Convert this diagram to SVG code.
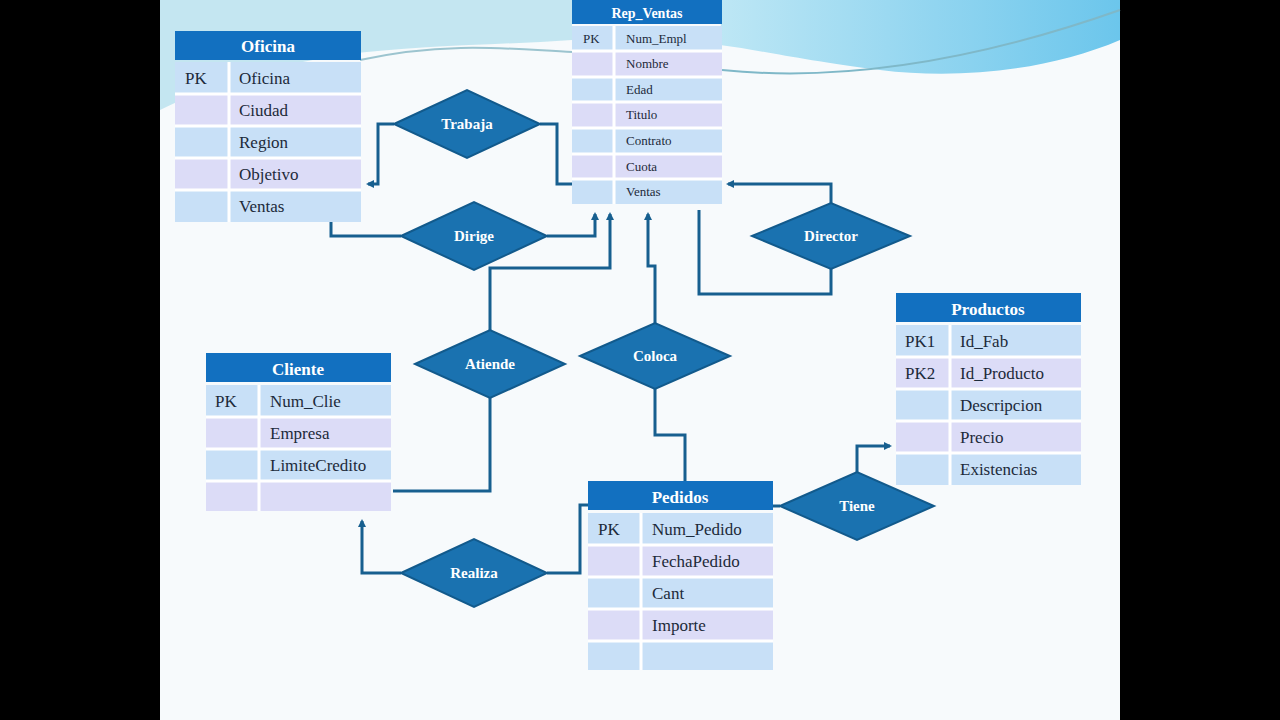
<svg xmlns="http://www.w3.org/2000/svg" width="1280" height="720" viewBox="0 0 1280 720">
<defs>
<linearGradient id="wv" x1="0" y1="0" x2="1" y2="0"><stop offset="0" stop-color="#8fcfe0"/><stop offset="0.5" stop-color="#c9ecf6"/><stop offset="1" stop-color="#5cc0ea"/></linearGradient>
<marker id="ar" markerWidth="8" markerHeight="8" refX="6" refY="4" orient="auto" markerUnits="userSpaceOnUse"><path d="M0,0 L8,4 L0,8 Z" fill="#175f8f"/></marker>
<style>
.hd{fill:#1270c0}
.ht{font-family:"Liberation Serif",serif;font-weight:bold;fill:#fff;font-size:17px;text-anchor:middle}
.ra{fill:#c8e0f7}.rb{fill:#dcdcf7}
.t{font-family:"Liberation Serif",serif;fill:#1c2a3a;font-size:17px}
.ts{font-family:"Liberation Serif",serif;fill:#1c2a3a;font-size:13px}
.dm{fill:#1a72b0;stroke:#125a8c;stroke-width:2}
.dt{font-family:"Liberation Serif",serif;font-weight:bold;fill:#fff;font-size:15px;text-anchor:middle}
.c{fill:none;stroke:#175f8f;stroke-width:3}
.sep{stroke:#fff;stroke-width:3}
</style>
</defs>
<rect width="1280" height="720" fill="#000"/>
<rect x="160" y="0" width="960" height="720" fill="#f7fafc"/>
<path d="M160,0 H1120 V40 C1050,70 960,80 880,70 C800,60 760,50 720,45 L722,0 Z" fill="url(#wv)" opacity="0.9"/>
<path d="M160,0 H572 V40 C500,45 420,45 340,55 C280,65 220,80 160,110 Z" fill="#b7e1ee" opacity="0.8"/>
<path d="M360,60 C450,40 520,50 572,52" fill="none" stroke="#9cc4cf" stroke-width="2"/>
<path d="M722,70 C820,80 950,70 1120,10" fill="none" stroke="#7fb8c8" stroke-width="2"/>

<g id="connectors">
<path class="c" d="M394,124 H378 V184 H368" marker-end="url(#ar)"/>
<path class="c" d="M540,124 H557 V184 H572"/>
<path class="c" d="M331,222 V236 H401"/>
<path class="c" d="M547,236 H595 V214" marker-end="url(#ar)"/>
<path class="c" d="M490,330 V268 H610 V214" marker-end="url(#ar)"/>
<path class="c" d="M490,398 V491 H393"/>
<path class="c" d="M655,323 V266 H648 V214" marker-end="url(#ar)"/>
<path class="c" d="M655,389 V435 H685 V481"/>
<path class="c" d="M831,203 V184 H728" marker-end="url(#ar)"/>
<path class="c" d="M831,269 V294 H699 V210"/>
<path class="c" d="M780,506 H773"/>
<path class="c" d="M857,472 V446 H890" marker-end="url(#ar)"/>
<path class="c" d="M401,573 H362 V521" marker-end="url(#ar)"/>
<path class="c" d="M547,573 H580 V505 H588"/>
</g>

<g id="Oficina">
<rect class="hd" x="175" y="31" width="186" height="29"/><text class="ht" x="268" y="52">Oficina</text>
<rect class="ra" x="175" y="62" width="186" height="32"/><rect class="rb" x="175" y="94" width="186" height="32"/><rect class="ra" x="175" y="126" width="186" height="32"/><rect class="rb" x="175" y="158" width="186" height="32"/><rect class="ra" x="175" y="190" width="186" height="32"/>
<path class="sep" d="M175,94 H361 M175,126 H361 M175,158 H361 M175,190 H361 M229,62 V222"/>
<text class="t" x="185" y="84">PK</text><text class="t" x="239" y="84">Oficina</text><text class="t" x="239" y="116">Ciudad</text><text class="t" x="239" y="148">Region</text><text class="t" x="239" y="180">Objetivo</text><text class="t" x="239" y="212">Ventas</text>
</g>

<g id="Rep_Ventas">
<rect class="hd" x="572" y="0" width="150" height="24"/><text class="ht" x="647" y="18" style="font-size:14px">Rep_Ventas</text>
<rect class="ra" x="572" y="26" width="150" height="25"/><rect class="rb" x="572" y="51" width="150" height="26"/><rect class="ra" x="572" y="77" width="150" height="25"/><rect class="rb" x="572" y="102" width="150" height="26"/><rect class="ra" x="572" y="128" width="150" height="26"/><rect class="rb" x="572" y="154" width="150" height="25"/><rect class="ra" x="572" y="179" width="150" height="25"/>
<path class="sep" d="M572,51 H722 M572,77 H722 M572,102 H722 M572,128 H722 M572,154 H722 M572,179 H722 M614,26 V204"/>
<text class="ts" x="583" y="43">PK</text><text class="ts" x="626" y="43">Num_Empl</text><text class="ts" x="626" y="68">Nombre</text><text class="ts" x="626" y="94">Edad</text><text class="ts" x="626" y="119">Titulo</text><text class="ts" x="626" y="145">Contrato</text><text class="ts" x="626" y="171">Cuota</text><text class="ts" x="626" y="196">Ventas</text>
</g>

<g id="Cliente">
<rect class="hd" x="206" y="353" width="185" height="29"/><text class="ht" x="298" y="375">Cliente</text>
<rect class="ra" x="206" y="385" width="185" height="32"/><rect class="rb" x="206" y="417" width="185" height="32"/><rect class="ra" x="206" y="449" width="185" height="32"/><rect class="rb" x="206" y="481" width="185" height="30"/>
<path class="sep" d="M206,417 H391 M206,449 H391 M206,481 H391 M259,385 V511"/>
<text class="t" x="215" y="407">PK</text><text class="t" x="270" y="407">Num_Clie</text><text class="t" x="270" y="439">Empresa</text><text class="t" x="270" y="471">LimiteCredito</text>
</g>

<g id="Productos">
<rect class="hd" x="896" y="293" width="185" height="29"/><text class="ht" x="988" y="315">Productos</text>
<rect class="ra" x="896" y="325" width="185" height="32"/><rect class="rb" x="896" y="357" width="185" height="32"/><rect class="ra" x="896" y="389" width="185" height="32"/><rect class="rb" x="896" y="421" width="185" height="32"/><rect class="ra" x="896" y="453" width="185" height="32"/>
<path class="sep" d="M896,357 H1081 M896,389 H1081 M896,421 H1081 M896,453 H1081 M950,325 V485"/>
<text class="t" x="905" y="347">PK1</text><text class="t" x="905" y="379">PK2</text><text class="t" x="960" y="347">Id_Fab</text><text class="t" x="960" y="379">Id_Producto</text><text class="t" x="960" y="411">Descripcion</text><text class="t" x="960" y="443">Precio</text><text class="t" x="960" y="475">Existencias</text>
</g>

<g id="Pedidos">
<rect class="hd" x="588" y="481" width="185" height="29"/><text class="ht" x="680" y="503">Pedidos</text>
<rect class="ra" x="588" y="513" width="185" height="32"/><rect class="rb" x="588" y="545" width="185" height="32"/><rect class="ra" x="588" y="577" width="185" height="32"/><rect class="rb" x="588" y="609" width="185" height="32"/><rect class="ra" x="588" y="641" width="185" height="29"/>
<path class="sep" d="M588,545 H773 M588,577 H773 M588,609 H773 M588,641 H773 M641,513 V670"/>
<text class="t" x="598" y="535">PK</text><text class="t" x="652" y="535">Num_Pedido</text><text class="t" x="652" y="567">FechaPedido</text><text class="t" x="652" y="599">Cant</text><text class="t" x="652" y="631">Importe</text>
</g>

<g id="Trabaja"><path class="dm" d="M394,124 L467,90 L540,124 L467,158 Z"/><text class="dt" x="467" y="129">Trabaja</text></g>
<g id="Dirige"><path class="dm" d="M401,236 L474,202 L547,236 L474,270 Z"/><text class="dt" x="474" y="241">Dirige</text></g>
<g id="Director"><path class="dm" d="M752,236 L831,203 L910,236 L831,269 Z"/><text class="dt" x="831" y="241">Director</text></g>
<g id="Atiende"><path class="dm" d="M415,364 L490,330 L565,364 L490,398 Z"/><text class="dt" x="490" y="369">Atiende</text></g>
<g id="Coloca"><path class="dm" d="M580,356 L655,323 L730,356 L655,389 Z"/><text class="dt" x="655" y="361">Coloca</text></g>
<g id="Tiene"><path class="dm" d="M780,506 L857,472 L934,506 L857,540 Z"/><text class="dt" x="857" y="511">Tiene</text></g>
<g id="Realiza"><path class="dm" d="M401,573 L474,539 L547,573 L474,607 Z"/><text class="dt" x="474" y="578">Realiza</text></g>
</svg>
